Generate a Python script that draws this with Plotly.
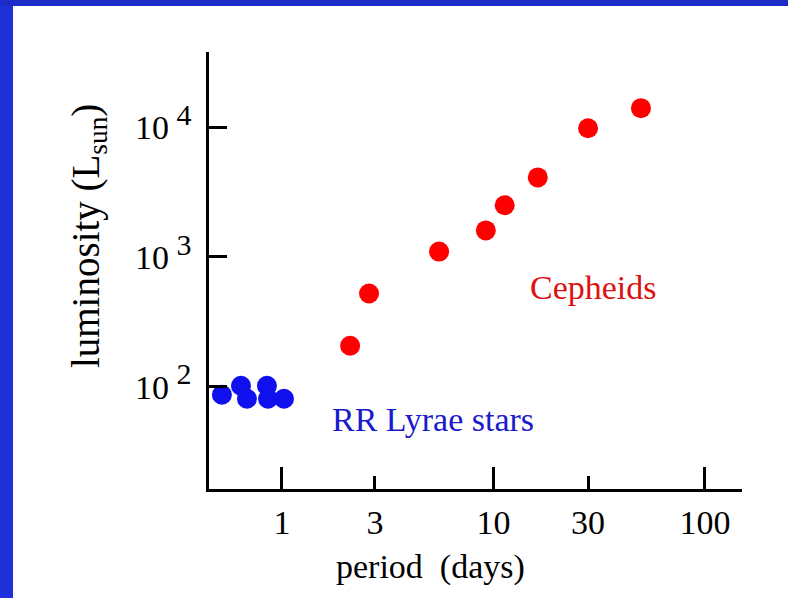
import plotly.graph_objects as go

# ---- data ----
cepheid_period = [2.10, 2.58, 5.53, 9.2, 11.3, 16.2, 28.0, 49.8]
cepheid_lum = [207, 523, 1100, 1600, 2500, 4100, 9800, 14000]

rr_period = [0.52, 0.64, 0.683, 0.849, 0.859, 1.022]
rr_lum = [86.8, 101.8, 80.8, 101.8, 80.8, 80.8]

x_tickvals = [1, 2.75, 10, 28, 100]
x_ticktext = ["1", "3", "10", "30", "100"]
x_major = [1, 10, 100]
y_tickvals = [100, 1000, 10000]
y_ticktext = ["10<sup><span style='font-size:30px'> 2</span></sup>",
              "10<sup><span style='font-size:30px'> 3</span></sup>",
              "10<sup><span style='font-size:30px'> 4</span></sup>"]

SERIF = "Liberation Serif, Times New Roman, serif"

fig = go.Figure()
fig.add_trace(go.Scatter(x=cepheid_period, y=cepheid_lum, mode="markers",
                         marker=dict(size=20, color="#ff0000"), xaxis="x", yaxis="y",
                         showlegend=False))
fig.add_trace(go.Scatter(x=rr_period, y=rr_lum, mode="markers",
                         marker=dict(size=20, color="#1010ee"), xaxis="x2", yaxis="y",
                         showlegend=False))

xr = [-0.345, 2.175]
fig.update_layout(
    width=788, height=598,
    margin=dict(l=209, r=46, t=52, b=109),
    paper_bgcolor="white", plot_bgcolor="white",
    font=dict(family=SERIF, size=34, color="black"),
    xaxis=dict(type="log", range=xr, tickmode="array", tickvals=x_tickvals, ticktext=x_ticktext,
               ticks="inside", ticklen=13, tickwidth=2.5, tickcolor="black",
               showline=True, linecolor="black", linewidth=2.5, showgrid=False, zeroline=False,
               ticklabelstandoff=1, tickfont=dict(family=SERIF, size=34, color="black")),
    xaxis2=dict(type="log", range=xr, overlaying="x", anchor="y", side="bottom",
                tickmode="array", tickvals=x_major, ticks="inside", ticklen=22, tickwidth=2.5,
                tickcolor="black", showticklabels=False, showline=False, showgrid=False,
                zeroline=False),
    yaxis=dict(type="log", range=[1.212, 4.579], tickmode="array", tickvals=y_tickvals,
               ticktext=y_ticktext, ticks="inside", ticklen=18, tickwidth=2.5, tickcolor="black",
               showline=True, linecolor="black", linewidth=2.5, showgrid=False, zeroline=False,
               ticklabelstandoff=8, tickfont=dict(family=SERIF, size=34, color="black")),
    annotations=[
        dict(text="period  (days)", xref="paper", yref="paper", x=0.4165, y=-0.178,
             xanchor="center", yanchor="middle", showarrow=False,
             font=dict(family=SERIF, size=34, color="black")),
        dict(text="luminosity (L<sub>sun</sub>)", xref="paper", yref="paper", x=-0.225, y=0.579,
             xanchor="center", yanchor="middle", textangle=-90, showarrow=False,
             font=dict(family=SERIF, size=39, color="black")),
        dict(text="Cepheids", xref="paper", yref="paper", x=0.722, y=0.46,
             xanchor="center", yanchor="middle", showarrow=False,
             font=dict(family=SERIF, size=34, color="#dd1111")),
        dict(text="RR Lyrae stars", xref="paper", yref="paper", x=0.42, y=0.158,
             xanchor="center", yanchor="middle", showarrow=False,
             font=dict(family=SERIF, size=34, color="#1a1acc")),
    ],
    shapes=[
        dict(type="rect", xref="paper", yref="paper", x0=-0.40, x1=-0.3677, y0=-0.26, y1=1.13,
             fillcolor="#2030d8", line=dict(width=0), layer="above"),
        dict(type="rect", xref="paper", yref="paper", x0=-0.40, x1=1.10, y0=1.1053, y1=1.13,
             fillcolor="#1c2cc8", line=dict(width=0), layer="above"),
    ],
)

fig.write_html("out.html", config={"displayModeBar": False},
               post_script="document.body.style.margin='0';document.body.style.overflow='hidden';")
